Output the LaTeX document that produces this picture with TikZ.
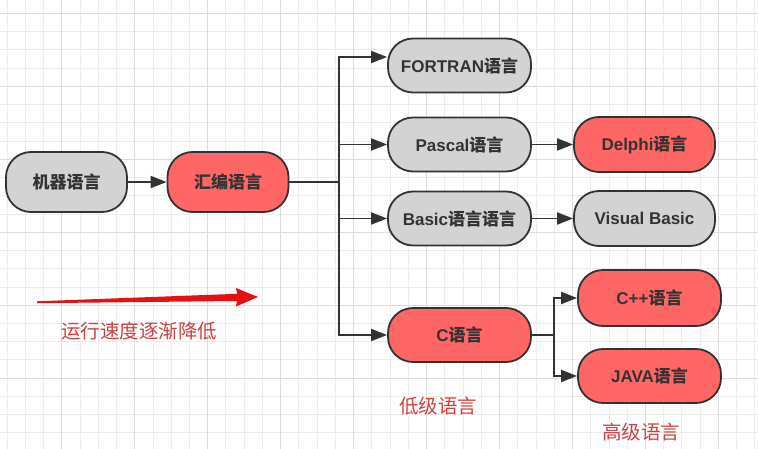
\documentclass[tikz,border=0pt]{standalone}
\usepackage{fontspec}
\setmainfont{Liberation Sans}
\newfontfamily\cjk{Noto Sans CJK SC}
\usetikzlibrary{arrows.meta}

\definecolor{edgegray}{RGB}{51,51,51}
\definecolor{boxgray}{RGB}{211,211,211}
\definecolor{boxred}{RGB}{255,102,102}
\definecolor{labelred}{RGB}{208,64,64}
\definecolor{speedred}{RGB}{228,18,18}
\definecolor{gridminor}{RGB}{236,236,236}
\definecolor{gridmajor}{RGB}{220,220,220}

\tikzset{
  langbox/.style={draw=edgegray, line width=1.8pt, rounded corners=25pt,
    inner sep=0pt, text=edgegray,
    font=\bfseries\fontsize{17}{19}\selectfont},
  graybox/.style={langbox, fill=boxgray},
  redbox/.style={langbox, fill=boxred},
  conn/.style={draw=edgegray, line width=1.8pt},
  arr/.style={conn, -{Triangle[length=16pt,width=12pt]}},
  redlabel/.style={text=labelred, inner sep=0pt, font=\cjk\fontsize{19.5}{21}\selectfont},
  minorline/.style={draw=gridminor, line width=0.8pt},
  majorline/.style={draw=gridmajor, line width=0.9pt}
}

\begin{document}
\begin{tikzpicture}[x=1pt, y=-1pt]
  \useasboundingbox (0,0) rectangle (758,449);
  \fill[white] (0,0) rectangle (758,449);

  % background grid: fine lines, with a heavier line every fourth cell
  \foreach \i in {0,...,41} {
    \draw[minorline] ({6.98+\i*18.24},0) -- ++(0,449);
  }
  \foreach \j in {0,...,24} {
    \draw[minorline] (0,{13.3+\j*18.24}) -- ++(758,0);
  }
  \foreach \i in {0,...,11} {
    \draw[majorline] ({-11.25+\i*72.95},0) -- ++(0,449);
  }
  \foreach \j in {0,...,6} {
    \draw[majorline] (0,{13.3+\j*72.95}) -- ++(758,0);
  }

  % language boxes
  \node[graybox, minimum width=121pt, minimum height=60pt] (m) at (66.5,182) {\cjk 机器语言};
  \node[redbox,  minimum width=121pt, minimum height=60pt] (h) at (228,182) {\cjk 汇编语言};

  \node[graybox, minimum width=143pt, minimum height=54pt] (f) at (459.5,65.5) {FORTRAN\cjk 语言};
  \node[graybox, minimum width=143pt, minimum height=54pt] (p) at (459.5,144.5) {Pascal\cjk 语言};
  \node[graybox, minimum width=143pt, minimum height=54pt] (b) at (459.5,218.5) {Basic\cjk 语言语言};
  \node[redbox,  minimum width=143pt, minimum height=54pt] (c) at (459.5,335) {C\cjk 语言};

  \node[redbox,  minimum width=141pt, minimum height=55pt] (d) at (644.5,144.5) {Delphi\cjk 语言};
  \node[graybox, minimum width=141pt, minimum height=55pt] (v) at (644.5,218.5) {Visual Basic};

  \node[redbox,  minimum width=143pt, minimum height=56pt] (cpp) at (649.5,298) {C++\cjk 语言};
  \node[redbox,  minimum width=143pt, minimum height=54pt] (j) at (649.5,376) {JAVA\cjk 语言};

  % connectors
  \draw[arr] (m.east) -- (h.west);

  \coordinate (bus) at (339,182);
  \draw[conn] (h.east) -- (bus);
  \draw[arr] (bus) |- ([yshift=8.5pt]f.west);
  \draw[arr] (bus) |- (p.west);
  \draw[arr] (bus) |- (b.west);
  \draw[arr] (bus) |- (c.west);

  \draw[arr] (p.east) -- (d.west);
  \draw[arr] (b.east) -- (v.west);

  \coordinate (cbus) at (554,335);
  \draw[conn] (c.east) -- (cbus);
  \draw[arr] (cbus) |- (cpp.west);
  \draw[arr] (cbus) |- (j.west);

  % tapered red arrow showing the trend
  \fill[speedred] (37,301.3) -- (237,293.8) -- (236,288) -- (258,297)
    -- (236,306.5) -- (237,301) -- (37,303.2) -- cycle;

  % captions
  \node[redlabel] (speed) at (139,331) {运行速度逐渐降低};
  \node[redlabel] (low) at (438,406) {低级语言};
  \node[redlabel] (high) at (641,432) {高级语言};
\end{tikzpicture}
\end{document}
